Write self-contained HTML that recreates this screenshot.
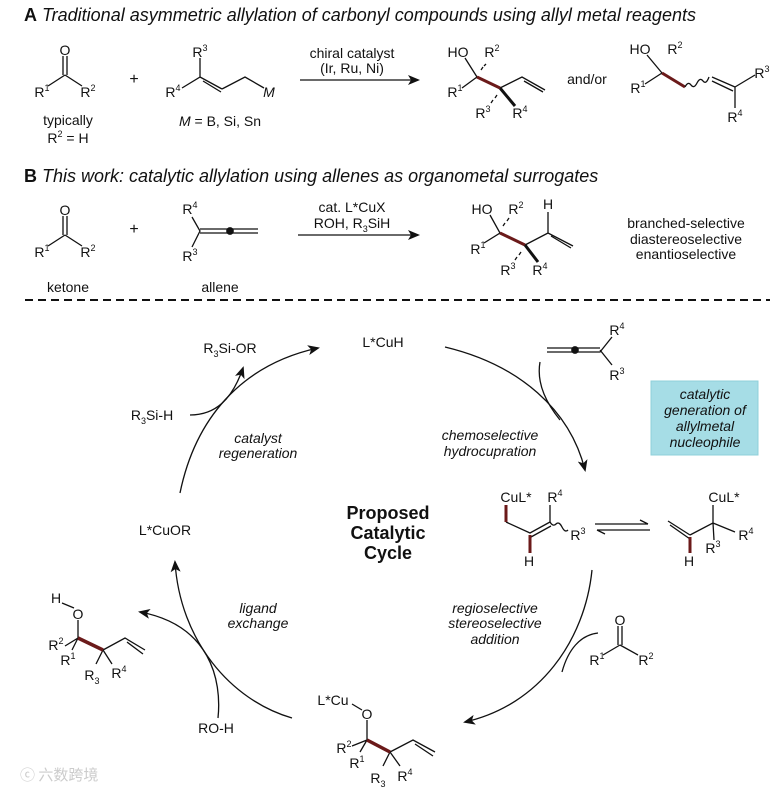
<!DOCTYPE html>
<html><head><meta charset="utf-8"><style>
html,body{margin:0;padding:0;background:#fff}
svg{display:block}
text{font-family:"Liberation Sans Narrow","Liberation Sans",sans-serif;font-size:14px;fill:#111}
.c{text-anchor:middle}
.i{font-style:italic}
.s{font-size:9px}
.t{font-size:18px;font-style:italic}
.b{font-weight:bold}
</style></head><body>
<svg width="780" height="787" viewBox="0 0 780 787" xmlns="http://www.w3.org/2000/svg">
<defs>
<marker id="ah" markerWidth="12" markerHeight="10" refX="10" refY="5" orient="auto" markerUnits="userSpaceOnUse">
<path d="M0,0 L12,5 L0,10 L3,5 Z" fill="#111"/></marker>
</defs>
<g stroke="#111" stroke-width="1.3" fill="none">
<!-- A ketone -->
<path d="M63,56 V75 M67,56 V75 M65,75 L48,86 M65,75 L82,86"/>
<!-- allyl -->
<path d="M200,58 V77 L182,88 M200,77 L222,89 M203,81 L221,92 M222,89 L245,77 L264,88"/>
<path d="M300,80 H418" marker-end="url(#ah)"/>
<!-- prod1 -->
<path d="M465,58 L477,77 M500,88 L522,77 L545,90 M524,81 L543,92 M477,77 L462,88"/>
<path d="M500,88 L515,106" stroke-width="3"/>
<path d="M481,70 l2,-3 M484,66 l2,-2" />
<path d="M497,95 l-2,3 M493,100 l-2,3"/>
<path d="M477,77 L500,88" stroke="#6b1a1a" stroke-width="3"/>
<!-- prod2 -->
<path d="M647,55 L662,73 M662,73 L645,84 M735,87 L755,75 M735,87 V108 M712,77 L735,87 M712,81 L733,91"/>
<path d="M662,73 L685,87" stroke="#6b1a1a" stroke-width="3"/>
<path d="M685,87 q3,-6 6,-2 t6,-2 t6,-2 t6,-4"/>
<!-- B ketone -->
<path d="M63,216 V235 M67,216 V235 M65,235 L48,246 M65,235 L82,246"/>
<path d="M192,217 L200,231 L192,247 M200,229 H258 M200,233 H258"/>
<circle cx="230" cy="231" r="3.2" fill="#111"/>
<path d="M298,235 H418" marker-end="url(#ah)"/>
<path d="M490,215 L500,233 L484,243 M525,245 L548,233 L573,246 M548,233 V212 M551,236 L571,248"/>
<path d="M500,233 L525,245" stroke="#6b1a1a" stroke-width="3"/>
<path d="M525,245 L538,262" stroke-width="3"/>
<path d="M503,226 l2,-3 M507,221 l2,-3 M521,252 l-2,3 M517,257 l-2,3"/>
<!-- dashed -->
<path d="M25,300 H770" stroke-dasharray="8,5" stroke-width="2"/>
<!-- cycle arcs -->
<path d="M180,493 C195,420 240,365 318,348" marker-end="url(#ah)"/>
<path d="M445,347 C520,365 570,410 585,470" marker-end="url(#ah)"/>
<path d="M592,570 C585,640 540,705 465,722" marker-end="url(#ah)"/>
<path d="M292,718 C230,700 180,640 175,562" marker-end="url(#ah)"/>
<path d="M190,415 C215,415 232,400 243,368" marker-end="url(#ah)"/>
<path d="M540,362 C536,385 548,405 560,420"/>
<path d="M598,633 C580,635 568,650 562,672"/>
<path d="M218,718 C222,680 210,625 140,612" marker-end="url(#ah)"/>
<!-- allene TR -->
<path d="M547,348 H600 M547,352 H600 L612,337 M600,350 L612,365"/>
<circle cx="575" cy="350" r="3.2" fill="#111"/>
<!-- intermediate -->
<path d="M506,522 L530,533 L550,522 M531,537 L551,526 M550,522 V505"/>
<path d="M550,522 q3,5 6,2 t6,3 t6,3"/>
<path d="M506,505 V522" stroke="#6b1a1a" stroke-width="3"/>
<path d="M530,535 V553" stroke="#6b1a1a" stroke-width="3"/>
<path d="M595,524 H648 M648,524 l-8,-4 M650,530 H597 M597,530 l8,4"/>
<path d="M668,521 L690,535 M670,525 L690,539 M690,535 L713,523 V505 M713,523 L735,532 M713,523 L714,540"/>
<path d="M690,537 V553" stroke="#6b1a1a" stroke-width="3"/>
<!-- left product -->
<path d="M62,603 L74,608 M78,620 V638 L65,646 M78,638 L72,650 M103,650 L125,638 L145,650 M127,642 L143,654 M103,650 L96,664 M103,650 L112,664"/>
<path d="M78,638 L103,650" stroke="#6b1a1a" stroke-width="3.5"/>
<!-- bottom product -->
<path d="M352,704 L362,710 M367,720 V740 L352,746 M367,740 L360,752 M390,752 L413,740 L435,752 M415,744 L433,756 M390,752 L383,766 M390,752 L400,766"/>
<path d="M367,740 L390,752" stroke="#6b1a1a" stroke-width="3.5"/>
<!-- right ketone -->
<path d="M618,626 V645 M622,626 V645 M620,645 L603,655 M620,645 L638,655"/>
</g>
<rect x="651" y="381" width="107" height="74" fill="#a6dde6" stroke="#8fd0da"/>
<g>
<text x="24" y="21" class="t"><tspan class="b" style="font-style:normal">A</tspan> Traditional asymmetric allylation of carbonyl compounds using allyl metal reagents</text>
<text x="65" y="55" class="c">O</text>
<text x="42" y="97" class="c">R<tspan class="s" dy="-6">1</tspan></text>
<text x="88" y="97" class="c">R<tspan class="s" dy="-6">2</tspan></text>
<text x="68" y="125" class="c">typically</text>
<text x="68" y="143" class="c">R<tspan class="s" dy="-6">2</tspan><tspan dy="6"> = H</tspan></text>
<text x="134" y="84" class="c" style="font-size:16px">+</text>
<text x="200" y="57" class="c">R<tspan class="s" dy="-6">3</tspan></text>
<text x="173" y="97" class="c">R<tspan class="s" dy="-6">4</tspan></text>
<text x="269" y="97" class="c i">M</text>
<text x="220" y="126" class="c"><tspan class="i">M</tspan> = B, Si, Sn</text>
<text x="352" y="58" class="c">chiral catalyst</text>
<text x="352" y="73" class="c">(Ir, Ru, Ni)</text>
<text x="458" y="57" class="c">HO</text>
<text x="492" y="57" class="c">R<tspan class="s" dy="-6">2</tspan></text>
<text x="455" y="97" class="c">R<tspan class="s" dy="-6">1</tspan></text>
<text x="483" y="118" class="c">R<tspan class="s" dy="-6">3</tspan></text>
<text x="520" y="118" class="c">R<tspan class="s" dy="-6">4</tspan></text>
<text x="587" y="84" class="c">and/or</text>
<text x="640" y="54" class="c">HO</text>
<text x="675" y="54" class="c">R<tspan class="s" dy="-6">2</tspan></text>
<text x="638" y="93" class="c">R<tspan class="s" dy="-6">1</tspan></text>
<text x="762" y="78" class="c">R<tspan class="s" dy="-6">3</tspan></text>
<text x="735" y="122" class="c">R<tspan class="s" dy="-6">4</tspan></text>

<text x="24" y="182" class="t"><tspan class="b" style="font-style:normal">B</tspan> This work: catalytic allylation using allenes as organometal surrogates</text>
<text x="65" y="215" class="c">O</text>
<text x="42" y="257" class="c">R<tspan class="s" dy="-6">1</tspan></text>
<text x="88" y="257" class="c">R<tspan class="s" dy="-6">2</tspan></text>
<text x="68" y="292" class="c">ketone</text>
<text x="134" y="234" class="c" style="font-size:16px">+</text>
<text x="190" y="214" class="c">R<tspan class="s" dy="-6">4</tspan></text>
<text x="190" y="261" class="c">R<tspan class="s" dy="-6">3</tspan></text>
<text x="220" y="292" class="c">allene</text>
<text x="352" y="212" class="c">cat. L*CuX</text>
<text x="352" y="228" class="c">ROH, R<tspan class="s" dy="4">3</tspan><tspan dy="-4">SiH</tspan></text>
<text x="482" y="214" class="c">HO</text>
<text x="516" y="214" class="c">R<tspan class="s" dy="-6">2</tspan></text>
<text x="548" y="209" class="c">H</text>
<text x="478" y="254" class="c">R<tspan class="s" dy="-6">1</tspan></text>
<text x="508" y="275" class="c">R<tspan class="s" dy="-6">3</tspan></text>
<text x="540" y="275" class="c">R<tspan class="s" dy="-6">4</tspan></text>
<text x="686" y="228" class="c">branched-selective</text>
<text x="686" y="244" class="c">diastereoselective</text>
<text x="686" y="259" class="c">enantioselective</text>

<text x="383" y="347" class="c">L*CuH</text>
<text x="230" y="353" class="c">R<tspan class="s" dy="4">3</tspan><tspan dy="-4">Si-OR</tspan></text>
<text x="152" y="420" class="c">R<tspan class="s" dy="4">3</tspan><tspan dy="-4">Si-H</tspan></text>
<text x="617" y="335" class="c">R<tspan class="s" dy="-6">4</tspan></text>
<text x="617" y="380" class="c">R<tspan class="s" dy="-6">3</tspan></text>
<text x="705" y="399" class="c i">catalytic</text>
<text x="705" y="415" class="c i">generation of</text>
<text x="705" y="431" class="c i">allylmetal</text>
<text x="705" y="447" class="c i">nucleophile</text>
<text x="490" y="440" class="c i">chemoselective</text>
<text x="490" y="456" class="c i">hydrocupration</text>
<text x="258" y="443" class="c i">catalyst</text>
<text x="258" y="458" class="c i">regeneration</text>
<text x="516" y="502" class="c">CuL*</text>
<text x="555" y="502" class="c">R<tspan class="s" dy="-6">4</tspan></text>
<text x="578" y="540" class="c">R<tspan class="s" dy="-6">3</tspan></text>
<text x="529" y="566" class="c">H</text>
<text x="724" y="502" class="c">CuL*</text>
<text x="746" y="540" class="c">R<tspan class="s" dy="-6">4</tspan></text>
<text x="713" y="553" class="c">R<tspan class="s" dy="-6">3</tspan></text>
<text x="689" y="566" class="c">H</text>
<text x="388" y="519" class="c b" style="font-size:18px">Proposed</text>
<text x="388" y="539" class="c b" style="font-size:18px">Catalytic</text>
<text x="388" y="559" class="c b" style="font-size:18px">Cycle</text>
<text x="165" y="535" class="c">L*CuOR</text>
<text x="495" y="613" class="c i">regioselective</text>
<text x="495" y="628" class="c i">stereoselective</text>
<text x="495" y="644" class="c i">addition</text>
<text x="258" y="613" class="c i">ligand</text>
<text x="258" y="628" class="c i">exchange</text>
<text x="620" y="625" class="c">O</text>
<text x="597" y="665" class="c">R<tspan class="s" dy="-6">1</tspan></text>
<text x="646" y="665" class="c">R<tspan class="s" dy="-6">2</tspan></text>
<text x="56" y="603" class="c">H</text>
<text x="78" y="619" class="c">O</text>
<text x="56" y="650" class="c">R<tspan class="s" dy="-6">2</tspan></text>
<text x="68" y="665" class="c">R<tspan class="s" dy="-6">1</tspan></text>
<text x="92" y="680" class="c">R<tspan class="s" dy="4">3</tspan></text>
<text x="119" y="678" class="c">R<tspan class="s" dy="-6">4</tspan></text>
<text x="216" y="733" class="c">RO-H</text>
<text x="333" y="705" class="c">L*Cu</text>
<text x="367" y="719" class="c">O</text>
<text x="344" y="753" class="c">R<tspan class="s" dy="-6">2</tspan></text>
<text x="357" y="768" class="c">R<tspan class="s" dy="-6">1</tspan></text>
<text x="378" y="783" class="c">R<tspan class="s" dy="4">3</tspan></text>
<text x="405" y="781" class="c">R<tspan class="s" dy="-6">4</tspan></text>
<text x="20" y="780" style="font-family:'Noto Sans CJK SC',sans-serif;font-size:15px;fill:#ccc">ⓒ 六数跨境</text>
</g>
</svg>
</body></html>
